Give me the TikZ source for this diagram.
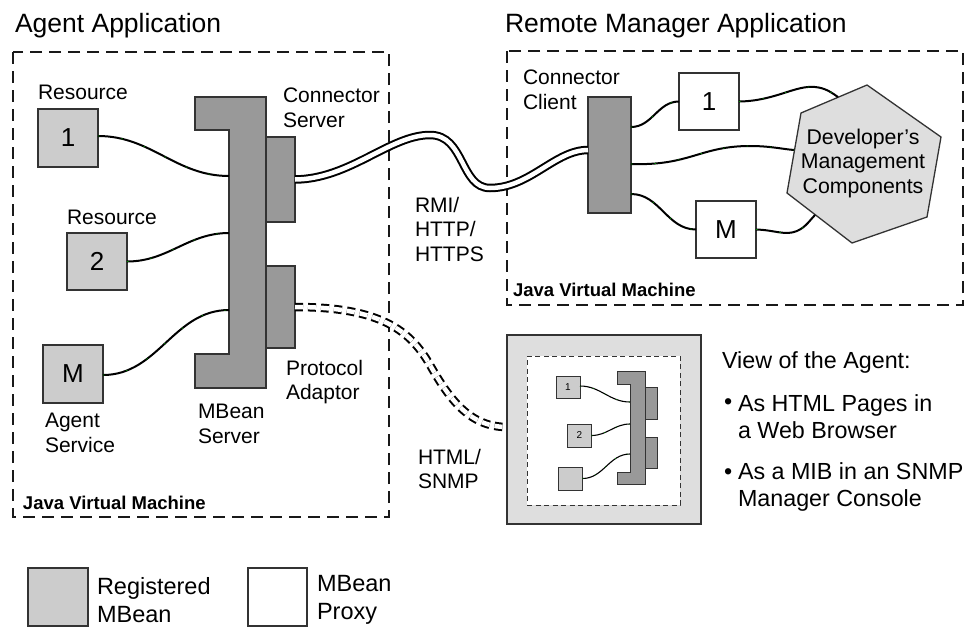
\documentclass[tikz,border=0pt]{standalone}
\usepackage{fontspec}
\setmainfont{Liberation Sans}
\begin{document}
\begin{tikzpicture}[x=1pt,y=-1pt,
  every node/.style={inner sep=0pt, outer sep=0pt},
  lbl/.style={font=\fontsize{21}{24.5}\selectfont, align=left, anchor=west},
  vlbl/.style={font=\fontsize{23.3}{27}\selectfont, align=left, anchor=west},
  leg/.style={font=\fontsize{23.5}{28}\selectfont, align=left, anchor=west},
  ttl/.style={font=\fontsize{26.5}{30}\selectfont, anchor=base west},
  jvm/.style={font=\fontsize{18.5}{20}\bfseries\selectfont, anchor=west},
  region/.style={draw=black!90, line width=2pt, dash pattern=on 12pt off 7pt},
  mbean/.style={draw=black!80, line width=1.3pt, fill=black!20, font=\fontsize{26}{28}\selectfont},
  proxy/.style={draw=black!80, line width=1.3pt, fill=white, font=\fontsize{26}{28}\selectfont},
  dark/.style={draw=black!80, line width=1.3pt, fill=black!40},
  light/.style={draw=black!80, line width=1.3pt, fill=black!13},
  wire/.style={line width=2pt, black, postaction={draw=green!55!black, line width=0.7pt, dash pattern=on 1.5pt off 22pt}},
  miniwire/.style={line width=1.1pt, black, postaction={draw=green!55!black, line width=0.5pt, dash pattern=on 1pt off 12pt}},
  dwire/.style={line width=2pt, draw=black, double=white, double distance=4.5pt},
  dashwire/.style={line width=2pt, draw=black, double=white, double distance=4.5pt, dash pattern=on 8pt off 5pt},
  mini/.style={draw=black!80, line width=1pt, fill=black!20, font=\fontsize{10}{12}\selectfont},
  minidark/.style={draw=black!80, line width=1pt, fill=black!40}
]
\useasboundingbox (0,0) rectangle (966,627);

% titles
\node[ttl] (t1) at (15,32) {Agent Application};
\node[ttl] (t2) at (505,32) {Remote Manager Application};

% JVM regions
\draw[region] (13,52) rectangle (389,517);
\draw[region] (507,51) rectangle (963,305);
\node[jvm] (j1) at (23,503) {Java Virtual Machine};
\node[jvm] (j2) at (513,290) {Java Virtual Machine};

% agent side
\node[mbean, minimum width=60pt, minimum height=58pt] (r1) at (68,138) {1};
\node[mbean, minimum width=60pt, minimum height=57pt] (r2) at (97,261.5) {2};
\node[mbean, minimum width=60pt, minimum height=58pt] (ag) at (73,374) {M};
\node[lbl] (lr1) at (38,92) {Resource};
\node[lbl] (lr2) at (67,217) {Resource};
\node[lbl] (lag) at (45,433) {Agent\\Service};

\draw[dark] (195,97) -- (266,97) -- (266,388) -- (195,388) -- (195,354) -- (229,354) -- (229,130) -- (195,130) -- cycle;
\node[minimum width=37pt, minimum height=258pt] (mbs) at (247.5,242) {};
\node[dark, minimum width=29pt, minimum height=85pt] (cs) at (280.5,179.5) {};
\node[dark, minimum width=29pt, minimum height=82pt] (pa) at (280.5,307) {};
\node[lbl] (lcs) at (283,108) {Connector\\Server};
\node[lbl] (lms) at (198,424) {MBean\\Server};
\node[lbl] (lpa) at (286,382) {Protocol\\Adaptor};

\draw[wire] (r1.east |- 0,136) to[out=0,in=180] (mbs.west |- 0,176);
\draw[wire] (r2.east) to[out=0,in=180] (mbs.west |- 0,233);
\draw[wire] (ag.east |- 0,375) to[out=0,in=180] (mbs.west |- 0,310);

% manager side
\node[dark, minimum width=43pt, minimum height=116pt] (cc) at (609.5,155) {};
\node[lbl] (lcc) at (523,90) {Connector\\Client};
\node[proxy, minimum width=60pt, minimum height=57pt] (p1) at (709,101.5) {1};
\node[proxy, minimum width=60pt, minimum height=57pt] (pm) at (726,229.5) {M};
\draw[light] (867,85) -- (941,137) -- (927,217) -- (852,243) -- (787,193) -- (801,113) -- cycle;
\node[font=\fontsize{21.3}{24.5}\selectfont, align=center] (dev) at (863,163) {Developer’s\\Management\\Components};
\coordinate (hA) at (838,97);
\coordinate (hB) at (794,150);
\coordinate (hC) at (815,215);

\draw[wire] (cc.east |- 0,127) to[out=0,in=180] (p1.west);
\draw[wire] (cc.east |- 0,194) to[out=0,in=180] (pm.west);
\draw[wire] (cc.east |- 0,164) .. controls (690,166) and (700,146) .. (750,146) .. controls (770,146) and (782,149) .. (hB);
\draw[wire] (p1.east) .. controls (775,101) and (795,85) .. (815,87) .. controls (826,88) and (832,93) .. (hA);
\draw[wire] (pm.east) .. controls (775,230) and (785,236) .. (797,231) .. controls (806,227) and (810,220) .. (hC);

% connections between applications
\draw[dwire] (cs.east) .. controls (350,179) and (390,135) .. (430,135) .. controls (465,135) and (460,188) .. (490,188) .. controls (530,188) and (555,150) .. (cc.west |- 0,150);
\node[lbl] (lrmi) at (415,229) {RMI/\\HTTP/\\HTTPS};

% browser view
\node[light, minimum width=194pt, minimum height=189pt] (br) at (604,429.5) {};
\node[draw=black!80, line width=0.8pt, dash pattern=on 5pt off 3.5pt, fill=white, minimum width=153pt, minimum height=149pt] (bi) at (603.5,430.5) {};
\draw[dashwire] (pa.east) .. controls (380,307) and (410,330) .. (430,365) .. controls (450,400) and (470,427) .. (br.west |- 0,427);
\node[lbl] (lhtml) at (418,469) {HTML/\\SNMP};

\node[mini, minimum width=24pt, minimum height=22pt] (m1) at (568,387) {1};
\node[mini, minimum width=24pt, minimum height=23pt] (m2) at (579.5,435.5) {2};
\node[mini, minimum width=24pt, minimum height=23pt] (m3) at (570.5,478.5) {};
\draw[minidark] (617,371) -- (645,371) -- (645,484) -- (617,484) -- (617,472) -- (630,472) -- (630,384) -- (617,384) -- cycle;
\node[minimum width=15pt, minimum height=88pt] (ms) at (637.5,428) {};
\node[minidark, minimum width=12pt, minimum height=32pt] (mc) at (651,403) {};
\node[minidark, minimum width=12pt, minimum height=31pt] (mp) at (651,452.5) {};
\draw[miniwire] (m1.east |- 0,386) to[out=0,in=180] (ms.west |- 0,402);
\draw[miniwire] (m2.east) to[out=0,in=180] (ms.west |- 0,424);
\draw[miniwire] (m3.east) to[out=0,in=180] (ms.west |- 0,454);

% view text
\node[vlbl] (v0) at (722,362) {View of the Agent:};
\node[vlbl] (vb1) at (724,404) {•};
\node[vlbl] (v1) at (738,416.5) {As HTML Pages in\\a Web Browser};
\node[vlbl] (vb2) at (724,474) {•};
\node[vlbl] (v2) at (738,486.5) {As a MIB in an SNMP\\Manager Console};

% legend
\node[mbean, minimum width=60pt, minimum height=58pt] (lg1) at (58,597) {};
\node[leg] (lg1t) at (97,600) {Registered\\MBean};
\node[proxy, minimum width=59pt, minimum height=58pt] (lg2) at (277.5,597) {};
\node[leg] (lg2t) at (317,600) {MBean\\Proxy};
\end{tikzpicture}
\end{document}
